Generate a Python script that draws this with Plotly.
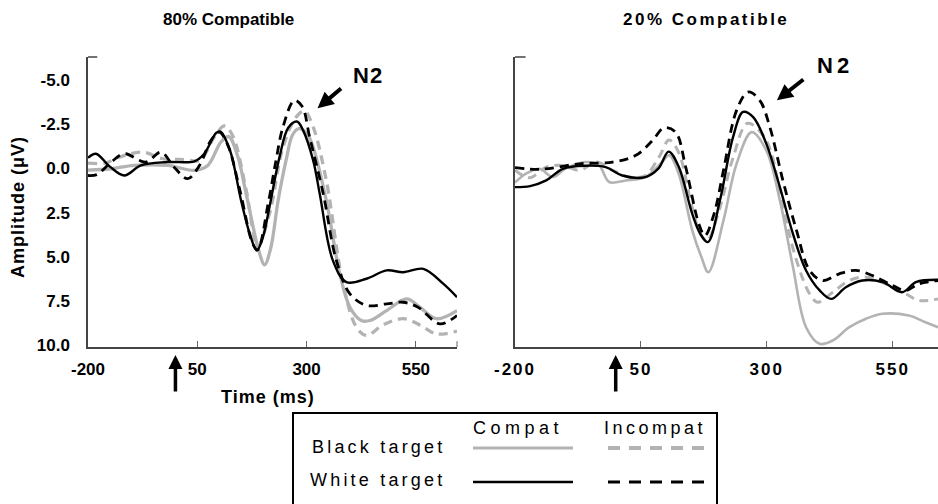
import plotly.graph_objects as go

W, H = 938, 504
FONT = "Liberation Sans, Arial, sans-serif"

# ---------------- data ----------------
tick_vals_x = [-200, 50, 300, 550]
tick_text_x = ["-200", "50", "300", "550"]
tick_vals_y = [-5, -2.5, 0, 2.5, 5, 7.5, 10]
tick_text_y = ["-5.0", "-2.5", "0.0", "2.5", "5.0", "7.5", "10.0"]

# 80% compatible (left panel)
l_white_compat_t = [-200, -182, -150, -117, -79, -18, 43, 66, 93, 103, 125, 150, 170, 186, 200, 215, 238, 258, 278, 292, 315, 330, 360, 391, 437, 483, 521, 567, 613, 644]
l_white_compat_v = [-0.6, -0.83, -0.1, 0.4, -0.17, -0.36, -0.4, -0.83, -2.0, -2.08, -1.0, 1.8, 3.7, 4.65, 3.9, 2.19, -0.64, -2.3, -2.65, -2.15, -0.45, 1.43, 5.2, 6.43, 6.24, 5.77, 5.87, 5.68, 6.53, 7.28]

l_white_incompat_t = [-200, -180, -145, -117, -68, -33, -3, 28, 55, 81, 100, 120, 148, 177, 188, 212, 230, 246, 272, 290, 307, 338, 368, 399, 437, 483, 521, 555, 605, 644]
l_white_incompat_v = [0.4, 0.35, -0.4, -0.83, -0.36, -0.92, -0.07, 0.58, -0.17, -1.58, -2.05, -1.3, 1.3, 4.27, 4.6, 2.0, -0.45, -2.34, -3.85, -3.5, -1.77, 1.43, 5.2, 7.09, 7.75, 7.66, 7.57, 7.85, 8.79, 8.32]

l_black_compat_t = [-200, -148, -94, -18, 43, 74, 104, 122, 143, 158, 173, 190, 204, 218, 235, 253, 268, 282, 300, 315, 345, 376, 399, 425, 445, 483, 529, 559, 597, 644]
l_black_compat_v = [0.1, 0.02, -0.17, -0.17, 0.11, -0.17, -1.49, -1.8, -0.64, 1.0, 2.75, 4.6, 5.45, 4.5, 1.8, -0.45, -1.9, -2.25, -2.0, -1.2, 1.81, 5.96, 7.85, 8.6, 8.6, 8.04, 7.38, 7.85, 8.5, 8.04]

l_black_incompat_t = [-200, -160, -133, -75, -30, 20, 55, 89, 112, 131, 162, 188, 215, 246, 276, 295, 315, 345, 383, 414, 437, 475, 521, 559, 597, 644]
l_black_incompat_v = [-0.3, -0.3, -0.6, -0.92, -0.55, -0.5, -0.45, -1.77, -2.4, -1.85, 1.25, 4.4, 2.57, -1.2, -2.9, -3.25, -2.34, 0.68, 6.5, 8.98, 9.45, 8.85, 8.5, 8.85, 9.36, 9.2]

# 20% compatible (right panel)
r_white_compat_t = [-200, -170, -138, -105, -60, -20, 13, 59, 85, 105, 125, 152, 168, 183, 207, 233, 253, 273, 299, 326, 352, 378, 405, 428, 457, 490, 530, 569, 596, 640]
r_white_compat_v = [1.06, 1.0, 0.68, 0.02, -0.15, -0.07, 0.4, 0.49, 0.0, -0.95, -0.1, 2.57, 3.7, 4.17, 1.81, -1.77, -3.19, -2.9, -1.4, 1.06, 3.7, 5.77, 6.9, 7.38, 6.72, 6.34, 6.43, 7.0, 6.43, 6.3]

r_white_incompat_t = [-200, -150, -72, -6, 40, 73, 96, 119, 139, 165, 177, 195, 214, 240, 263, 286, 306, 332, 359, 385, 411, 444, 477, 510, 550, 576, 602, 640]
r_white_incompat_v = [-0.04, 0.05, -0.26, -0.36, -0.74, -1.58, -2.3, -2.05, -0.07, 3.13, 3.8, 2.6, 0.11, -3.28, -4.32, -3.85, -2.34, 0.68, 3.5, 5.77, 6.34, 5.96, 5.77, 6.06, 6.62, 6.9, 6.53, 6.34]

r_black_compat_t = [-200, -178, -151, -125, -99, -59, -33, -13, 20, 59, 92, 106, 125, 152, 170, 184, 214, 240, 270, 299, 326, 352, 378, 405, 431, 464, 497, 530, 582, 615, 640]
r_black_compat_v = [0.8, 0.3, 0.02, 0.49, 0.0, -0.36, -0.17, 0.77, 0.68, 0.49, -0.36, -0.74, 0.3, 3.5, 5.0, 5.87, 2.94, -0.26, -2.05, -1.02, 1.81, 5.58, 8.98, 9.92, 9.73, 8.98, 8.5, 8.22, 8.32, 8.7, 8.98]

r_black_incompat_t = [-200, -171, -138, -105, -72, -39, -6, 27, 59, 86, 106, 125, 150, 168, 181, 205, 233, 262, 299, 332, 359, 385, 401, 431, 464, 497, 536, 576, 602, 640]
r_black_incompat_v = [0.1, 0.53, -0.07, -0.17, 0.11, -0.36, 0.11, 0.49, 0.4, -0.64, -1.6, -0.9, 2.0, 3.7, 4.1, 2.4, -0.6, -2.55, -1.58, 2.19, 5.2, 7.09, 7.57, 7.0, 6.34, 6.15, 6.53, 7.09, 7.47, 7.38]

panel_titles = ["80% Compatible", "20% Compatible"]
legend_rows = ["Black target", "White target"]
legend_cols = ["Compat", "Incompat"]

GRAY = "#b3b3b3"
BLACK = "#000000"
DASH = "9px,6px"

def spaced(s, ls):
    return '<span style="letter-spacing:%spx">%s</span>' % (ls, s)

fig = go.Figure()

def add(t, v, xa, ya, color, width, dash):
    fig.add_trace(go.Scatter(x=t, y=v, xaxis=xa, yaxis=ya, mode="lines",
                             line=dict(color=color, width=width, dash=dash, shape="spline", smoothing=1.0),
                             showlegend=False, hoverinfo="skip"))

# left
add(l_black_compat_t, l_black_compat_v, "x", "y", GRAY, 3.3, "solid")
add(l_black_incompat_t, l_black_incompat_v, "x", "y", GRAY, 3.3, DASH)
add(l_white_incompat_t, l_white_incompat_v, "x", "y", BLACK, 2.8, DASH)
add(l_white_compat_t, l_white_compat_v, "x", "y", BLACK, 2.4, "solid")
# right
add(r_black_compat_t, r_black_compat_v, "x2", "y2", GRAY, 2.6, "solid")
add(r_black_incompat_t, r_black_incompat_v, "x2", "y2", GRAY, 3.0, DASH)
add(r_white_incompat_t, r_white_incompat_v, "x2", "y2", BLACK, 2.8, DASH)
add(r_white_compat_t, r_white_compat_v, "x2", "y2", BLACK, 2.4, "solid")

def px_x(p):
    return p / W

def px_y(p):
    return (H - p) / H

ydom = [px_y(347), px_y(57)]
axis_line = dict(showline=True, linecolor="#444", linewidth=1.5, showgrid=False, zeroline=False, automargin=False)
xcommon = dict(tickmode="array", tickvals=tick_vals_x, ticks="inside",
               ticklen=6, tickwidth=1, tickcolor="#666", ticklabelstandoff=6,
               tickfont=dict(family=FONT, size=17, color="black", weight="bold"), **axis_line)

fig.update_layout(
    width=W, height=H, margin=dict(l=0, r=0, t=0, b=0, pad=0), autosize=False,
    plot_bgcolor="white", paper_bgcolor="white",
    xaxis=dict(domain=[px_x(88), px_x(457)], range=[-200, 644], anchor="y",
               ticktext=tick_text_x, **xcommon),
    yaxis=dict(domain=ydom, range=[10.1, -6.3], anchor="x", tickmode="array",
               tickvals=tick_vals_y, ticktext=tick_text_y, ticks="", ticklabelstandoff=13,
               tickfont=dict(family=FONT, size=17, color="black", weight="bold"), **axis_line),
    xaxis2=dict(domain=[px_x(515), 1.0], range=[-200, 640], anchor="y2",
                ticktext=[spaced(s, 2) for s in tick_text_x], **xcommon),
    yaxis2=dict(domain=ydom, range=[10.1, -6.3], anchor="x2", showticklabels=False, ticks="", **axis_line),
)

ann = []
def text(x, y, s, size, bold=False, xanchor="center", angle=0, ls=0):
    if ls:
        s = spaced(s, ls)
    ann.append(dict(x=px_x(x), y=px_y(y), xref="paper", yref="paper", text=s, showarrow=False,
                    xanchor=xanchor, yanchor="middle", textangle=angle,
                    font=dict(family=FONT, size=size, color="black", weight="bold" if bold else "normal")))

text(228, 20, panel_titles[0], 17, bold=True)
text(706, 20, panel_titles[1], 17, bold=True, ls=2.5)
text(18, 207, "Amplitude (μV)", 18, bold=True, angle=-90, ls=1)
text(268, 397, "Time (ms)", 18, bold=True, ls=1)
text(368, 75, "N2", 22, bold=True, ls=1)
text(835, 65, "N2", 22, bold=True, ls=4)

# N2 arrows
ann.append(dict(x=325, y=-3.4, xref="x", yref="y", ax=25, ay=-21, text="", showarrow=True,
                arrowhead=2, arrowsize=0.8, arrowwidth=4, arrowcolor="black"))
ann.append(dict(x=320, y=-3.85, xref="x2", yref="y2", ax=28, ay=-22, text="", showarrow=True,
                arrowhead=2, arrowsize=0.8, arrowwidth=4, arrowcolor="black"))
# stimulus-onset arrows at t = 0
for xr in ["x", "x2"]:
    ann.append(dict(x=0, y=px_y(355), xref=xr, yref="paper", ax=0, ay=38, text="", showarrow=True,
                    arrowhead=2, arrowsize=0.8, arrowwidth=3.5, arrowcolor="black"))

# legend text
text(518, 428, legend_cols[0], 18, ls=4.5)
text(655, 428, legend_cols[1], 18, ls=3.5)
text(447, 447, legend_rows[0], 18, xanchor="right", ls=3.2)
text(447, 480, legend_rows[1], 18, xanchor="right", ls=3.2)

fig.update_layout(annotations=ann)

shapes = []
# legend box
shapes.append(dict(type="rect", xref="paper", yref="paper", x0=px_x(293), x1=px_x(717),
                   y0=-0.05, y1=px_y(413), line=dict(color="black", width=2)))
# legend samples
for y, col in [(448, GRAY), (482, BLACK)]:
    w = 3.2 if col == GRAY else 2.6
    shapes.append(dict(type="line", xref="paper", yref="paper", x0=px_x(473), x1=px_x(573),
                       y0=px_y(y), y1=px_y(y), line=dict(color=col, width=w)))
    shapes.append(dict(type="line", xref="paper", yref="paper", x0=px_x(608), x1=px_x(708),
                       y0=px_y(y), y1=px_y(y), line=dict(color=col, width=w + 0.6, dash="12px,9px")))
# small caps at top of y axes
for xd, yd in [("x domain", "y domain"), ("x2 domain", "y2 domain")]:
    shapes.append(dict(type="line", xref=xd, yref=yd, x0=0, x1=0.025, y0=1, y1=1,
                       line=dict(color="#444", width=1.5)))
shapes.append(dict(type="line", xref="x domain", yref="y domain", x0=1, x1=1, y0=0, y1=0.02,
                   line=dict(color="#666", width=1)))
fig.update_layout(shapes=shapes)

fig.write_html("out.html", config={"displayModeBar": False},
               post_script="document.body.style.margin='0px';document.body.style.overflow='hidden';")
